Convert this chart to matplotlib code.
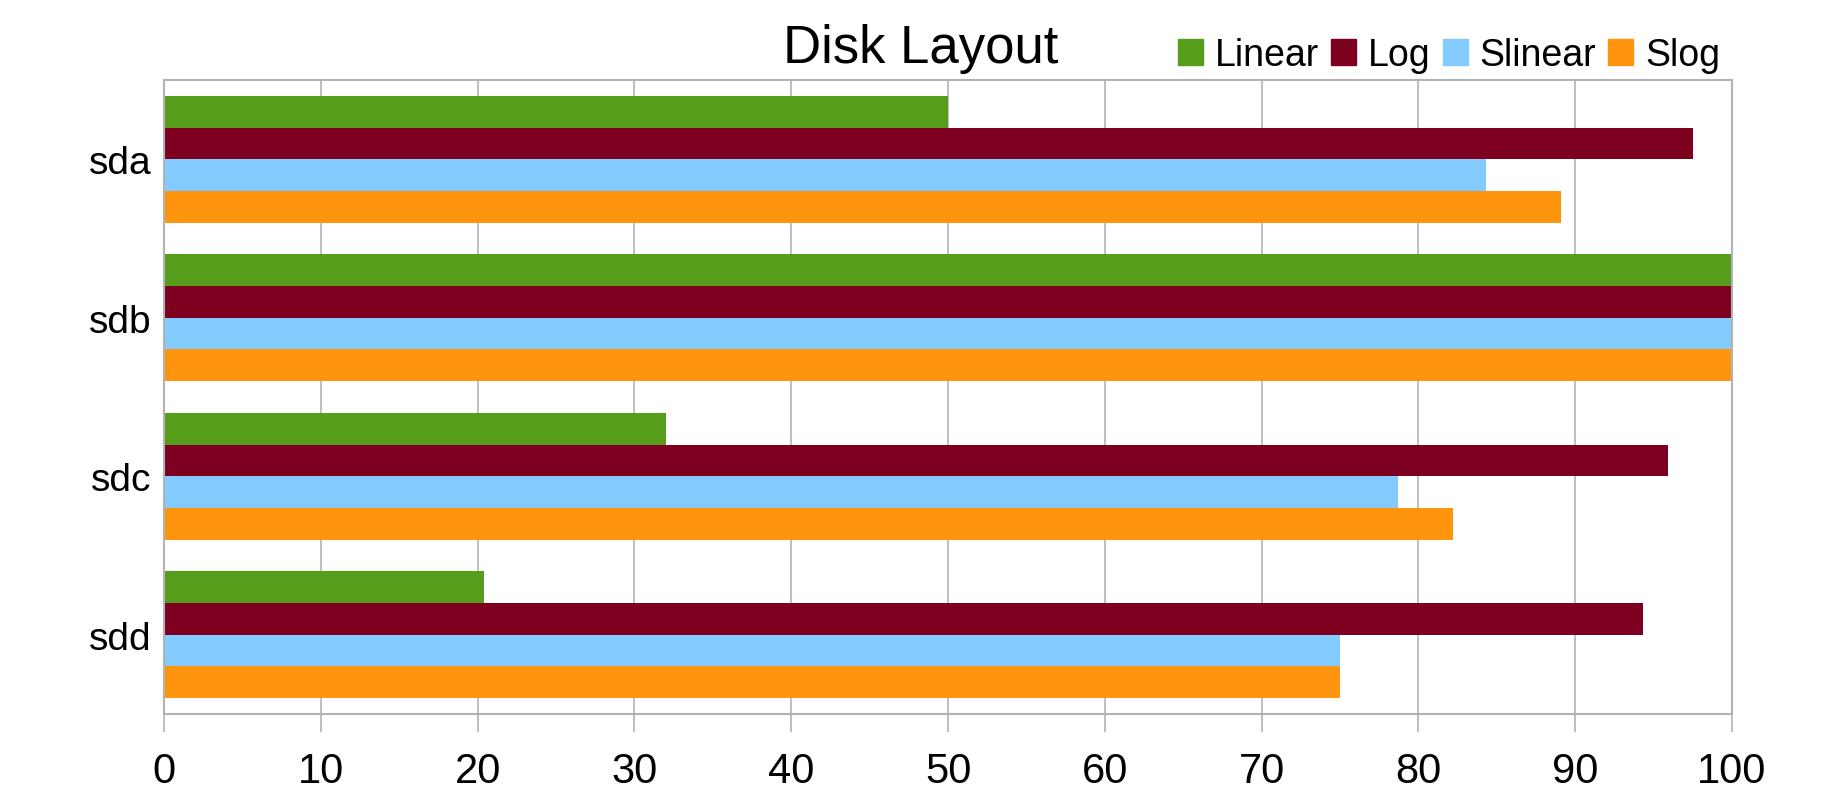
import numpy as np
import matplotlib
matplotlib.use("Agg")
import matplotlib.pyplot as plt
from matplotlib.patches import Patch

plt.rcParams['font.family'] = ['Liberation Sans', 'DejaVu Sans']

disks = ["sda", "sdb", "sdc", "sdd"]
linear = [50.0, 100.0, 32.0, 20.4]
log = [97.5, 100.0, 95.9, 94.3]
slinear = [84.3, 100.0, 78.7, 75.0]
slog = [89.1, 100.0, 82.2, 75.0]

series = [("Linear", linear, "#579d1c"),
          ("Log", log, "#7e0021"),
          ("Slinear", slinear, "#83caff"),
          ("Slog", slog, "#ff950e")]

fig = plt.figure(figsize=(18.38, 8.04), dpi=100)
ax = fig.add_axes([164/1838, 89/804, (1732-164)/1838, (715-81)/804])

y = np.arange(len(disks))
h = 0.2
for k, (name, vals, col) in enumerate(series):
    ax.barh(y - 0.3 + k*h, vals, height=h, color=col, label=name, zorder=2)

ax.set_xlim(0, 100)
ax.set_ylim(len(disks) - 0.5, -0.5)
ax.set_xticks(np.arange(0, 101, 10))
ax.set_yticks(y)
ax.set_yticklabels(disks)
ax.grid(axis='x', color='#b3b3b3', linewidth=1.2, zorder=0)
for s in ax.spines.values():
    s.set_color('#b3b3b3')
    s.set_linewidth(1.5)
ax.tick_params(axis='x', length=13, width=1.2, color='#b3b3b3', labelsize=30, pad=14)
ax.tick_params(axis='y', length=0, labelsize=28, pad=9)

fig.text(921/1838, 1 - 63/804, "Disk Layout", fontsize=38, ha='center', va='baseline')

handles = [Patch(color=c, label=n) for n, _, c in series]
fig.legend(handles=handles, loc='center', bbox_to_anchor=(1449/1838, 1 - 56/804),
           ncol=4, frameon=False, fontsize=27, handlelength=0.67, handleheight=0.7,
           handletextpad=0.32, columnspacing=0.32, borderpad=0, borderaxespad=0)

fig.savefig("out.png", dpi=100, facecolor='white')
